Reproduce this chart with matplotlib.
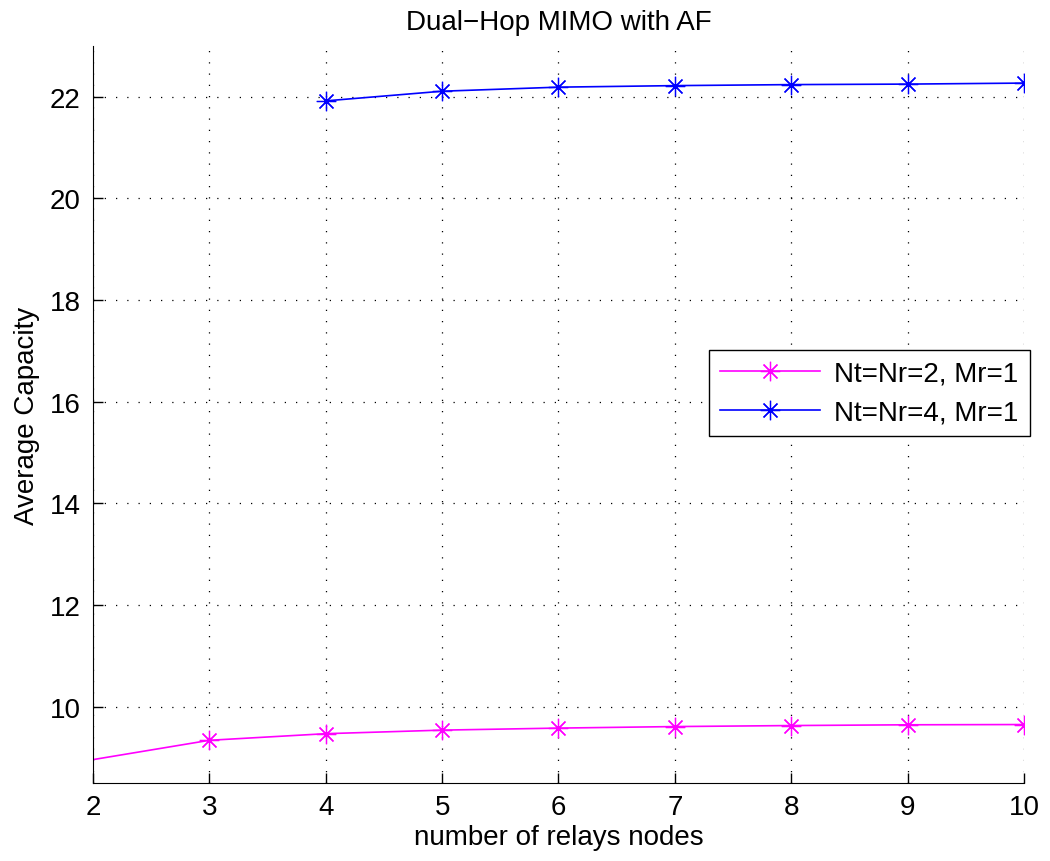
import numpy as np
import matplotlib.pyplot as plt

plt.rcParams['font.family'] = ['Liberation Sans', 'DejaVu Sans']

# number of relays vs average capacity
relays_2 = [1, 3, 4, 5, 6, 7, 8, 9, 10]
cap_2 = [8.58, 9.34, 9.47, 9.54, 9.58, 9.61, 9.63, 9.645, 9.65]
relays_4 = [4, 5, 6, 7, 8, 9, 10]
cap_4 = [21.92, 22.11, 22.19, 22.22, 22.24, 22.25, 22.27]

xticks = [2, 3, 4, 5, 6, 7, 8, 9, 10]
yticks = [10, 12, 14, 16, 18, 20, 22]

fig = plt.figure(figsize=(10.5, 8.62), dpi=100)
ax = fig.add_axes([0.0886, 0.0905, 0.8866, 0.855])

asterisk = (8, 2, 0)
ax.plot(relays_2, cap_2, '-', marker=asterisk, color='#ff00ff', lw=1.2, ms=14,
        mew=0.9, label='Nt=Nr=2, Mr=1')
ax.plot(relays_4, cap_4, '-', marker=asterisk, color='#0000ff', lw=1.2, ms=14,
        mew=0.9, label='Nt=Nr=4, Mr=1')

ax.set_xlim(2, 10)
ax.set_ylim(8.5, 23)
ax.set_xticks(xticks)
ax.set_yticks(yticks)
ax.grid(True, color='black', linestyle=(0, (1, 8)), linewidth=0.9)
ax.tick_params(direction='in', labelsize=20, length=7, width=1.0)
ax.tick_params(axis='x', pad=8)
ax.tick_params(axis='y', pad=9)
ax.spines['top'].set_visible(False)
ax.spines['right'].set_visible(False)

ax.set_title('Dual\u2212Hop MIMO with AF', fontsize=20, pad=12)
ax.set_xlabel('number of relays nodes', fontsize=20, labelpad=3)
ax.set_ylabel('Average Capacity', fontsize=20, labelpad=7)

leg = ax.legend(loc='upper left', bbox_to_anchor=(0.662, 0.588), fontsize=20,
                fancybox=False, framealpha=1, edgecolor='black',
                handlelength=3.6, borderpad=0.4, labelspacing=0.45,
                handletextpad=0.5, borderaxespad=0)
leg.get_frame().set_linewidth(1.0)

fig.savefig('out.png', dpi=100)
